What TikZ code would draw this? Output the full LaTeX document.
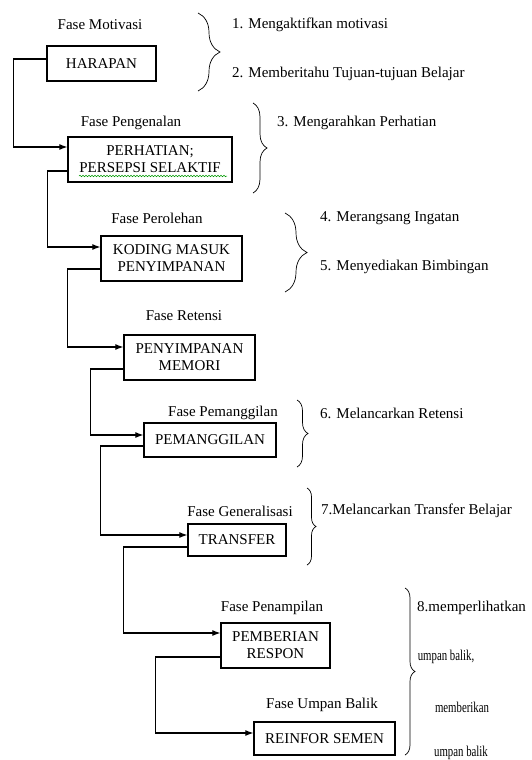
\documentclass[tikz,border=0pt]{standalone}
\usepackage{fontspec}
\setmainfont{Liberation Serif}
\usepackage{tikz}
\usetikzlibrary{arrows.meta,decorations.pathreplacing,decorations.pathmorphing}

\begin{document}
\begin{tikzpicture}[x=1pt,y=-1pt,font=\fontsize{15}{17}\selectfont,
        box/.style={draw,line width=1.3pt,align=center,inner sep=0pt},
        fase/.style={inner sep=0pt},
        aim/.style={anchor=west,inner sep=0pt},
        flow/.style={line width=1.1pt,-{Latex[length=8pt,width=6pt]}},
        kurung/.style={decorate,decoration={brace,amplitude=#1},line width=0.7pt}]
        \useasboundingbox (0,0) rectangle (531,760);
        % phase boxes
        \node[box,minimum width=109pt,minimum height=35pt] (harapan) at (101.5,63.5) {HARAPAN};
        \node[box,minimum width=164pt,minimum height=45pt] (perhatian) at (150,159.5) {PERHATIAN;\\PERSEPSI SELAKTIF};
        \node[box,minimum width=141pt,minimum height=45pt] (koding) at (171.5,258.5) {KODING MASUK\\PENYIMPANAN};
        \node[box,minimum width=131pt,minimum height=45pt] (memori) at (189.5,357.5) {PENYIMPANAN\\MEMORI};
        \node[box,minimum width=132pt,minimum height=34pt] (panggil) at (210,440) {PEMANGGILAN};
        \node[box,minimum width=98pt,minimum height=32pt] (transfer) at (237,540) {TRANSFER};
        \node[box,minimum width=109pt,minimum height=45pt] (respon) at (275.5,645.5) {PEMBERIAN\\RESPON};
        \node[box,minimum width=141pt,minimum height=33pt] (reinfor) at (324.5,738.5) {REINFOR SEMEN};
        \draw[green!60!black,line width=0.5pt,decorate,decoration={snake,amplitude=0.8pt,segment length=3pt}]
            (79,176) -- (227,176);
        % phase names
        \node[fase] (f1) at (100,25) {Fase Motivasi};
        \node[fase] (f2) at (131,123) {Fase Pengenalan};
        \node[fase] (f3) at (157,218) {Fase Perolehan};
        \node[fase] (f4) at (184,316) {Fase Retensi};
        \node[fase] (f5) at (223,413) {Fase Pemanggilan};
        \node[fase] (f6) at (240,511) {Fase Generalisasi};
        \node[fase] (f7) at (272,608) {Fase Penampilan};
        \node[fase] (f8) at (322,705) {Fase Umpan Balik};
        % flow between the boxes
        \draw[flow] ([yshift=4.5pt]harapan.west) -- ++(-33,0) |- ([yshift=12.5pt]perhatian.west);
        \draw[flow] ([yshift=-11.5pt]perhatian.west) -- ++(-20,0) |- ([yshift=11.5pt]koding.west);
        \draw[flow] ([yshift=-10.5pt]koding.west) -- ++(-33,0) |- ([yshift=10.5pt]memori.west);
        \draw[flow] ([yshift=-11.5pt]memori.west) -- ++(-33,0) |- ([yshift=5pt]panggil.west);
        \draw[flow] ([yshift=-6pt]panggil.west) -- ++(-43,0) |- ([yshift=5pt]transfer.west);
        \draw[flow] ([yshift=-7pt]transfer.west) -- ++(-64,0) |- ([yshift=12.5pt]respon.west);
        \draw[flow] ([yshift=-11.5pt]respon.west) -- ++(-65,0) |- ([yshift=5.5pt]reinfor.west);
        % braces
        \draw[kurung=22pt] (198,13) -- (198,91);
        \draw[kurung=14pt] (253,103) -- (253,193);
        \draw[kurung=22pt] (285,213) -- (285,292);
        \draw[kurung=11pt] (297,400) -- (297,467);
        \draw[kurung=9pt] (307,488) -- (307,565);
        \draw[kurung=10pt] (405,588) -- (405,755);
        % events of instruction
        \node[aim] (a1) at (232,25) {1. Mengaktifkan motivasi};
        \node[aim] (a2) at (232,74) {2. Memberitahu Tujuan-tujuan Belajar};
        \node[aim] (a3) at (277,123) {3. Mengarahkan Perhatian};
        \node[aim] (a4) at (320,218) {4. Merangsang Ingatan};
        \node[aim] (a5) at (320,267) {5. Menyediakan Bimbingan};
        \node[aim] (a6) at (320,413) {6. Melancarkan Retensi};
        \node[aim] (a7) at (321,511) {7.Melancarkan Transfer Belajar};
        \node[aim] (a8) at (417,608) {8.memperlihatkan};
        \node[fase] (a9) at (446,657) {\scalebox{0.72}[1]{umpan balik,}};
        \node[fase] (a10) at (462,707) {\scalebox{0.72}[1]{memberikan}};
        \node[fase] (a11) at (461,753) {\scalebox{0.72}[1]{umpan balik}};
\end{tikzpicture}
\end{document}
